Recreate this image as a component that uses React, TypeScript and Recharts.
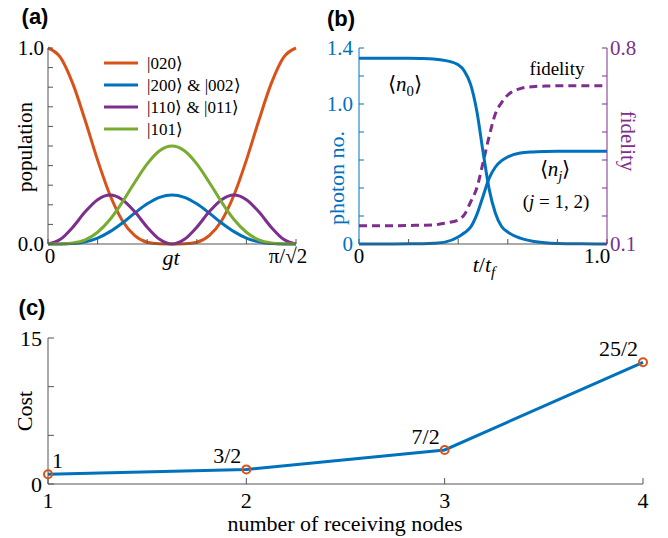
import React from 'react'
import { LineChart, Line, XAxis, YAxis, Legend, LabelList } from 'recharts'

const SERIF = '"Liberation Serif", "Times New Roman", serif'
const SANS = '"Liberation Sans", Arial, sans-serif'

// MATLAB default colours
const ORANGE = '#D95319'
const BLUE = '#0072BD'
const PURPLE = '#7E2F8E'
const GREEN = '#77AC30'
const AXIS = '#555555'

// (a) populations, x is gt as a fraction of pi/sqrt(2)
const gtFrac = [0, 0.05, 0.1, 0.15, 0.2, 0.25, 0.3, 0.35, 0.4, 0.45, 0.5, 0.55, 0.6, 0.65, 0.7, 0.75, 0.8, 0.85, 0.9, 0.95, 1]
const pop020 = [1, 0.952, 0.818, 0.63, 0.428, 0.25, 0.119, 0.043, 0.009, 0.001, 0, 0.001, 0.009, 0.043, 0.119, 0.25, 0.428, 0.63, 0.818, 0.952, 1]
const pop200 = [0, 0, 0.002, 0.011, 0.03, 0.063, 0.107, 0.158, 0.205, 0.238, 0.25, 0.238, 0.205, 0.158, 0.107, 0.063, 0.03, 0.011, 0.002, 0, 0]
const pop110 = [0, 0.024, 0.086, 0.164, 0.226, 0.25, 0.226, 0.164, 0.086, 0.024, 0, 0.024, 0.086, 0.164, 0.226, 0.25, 0.226, 0.164, 0.086, 0.024, 0]
const pop101 = [0, 0, 0.005, 0.021, 0.06, 0.125, 0.214, 0.315, 0.409, 0.476, 0.5, 0.476, 0.409, 0.315, 0.214, 0.125, 0.06, 0.021, 0.005, 0, 0]
const stateNames = ['|020⟩', '|200⟩ & |002⟩', '|110⟩ & |011⟩', '|101⟩']
const popTicksY = [0, 0.1, 0.2, 0.3, 0.4, 0.5, 0.6, 0.7, 0.8, 0.9, 1]
const popTicksX = [0, 0.2, 0.4, 0.6, 0.8, 1]

// (b) photon numbers and fidelity vs t/tf
const tNorm = [0, 0.1, 0.2, 0.25, 0.3, 0.35, 0.4, 0.425, 0.45, 0.475, 0.5, 0.525, 0.55, 0.575, 0.6, 0.65, 0.7, 0.75, 0.8, 0.9, 1]
const n0 = [1.326, 1.326, 1.326, 1.325, 1.322, 1.31, 1.28, 1.235, 1.14, 0.95, 0.66, 0.39, 0.22, 0.125, 0.085, 0.042, 0.02, 0.009, 0.004, 0.001, 0]
const nj = [0, 0, 0.001, 0.002, 0.005, 0.015, 0.05, 0.08, 0.12, 0.21, 0.34, 0.47, 0.55, 0.595, 0.622, 0.65, 0.658, 0.661, 0.662, 0.662, 0.662]
const fidelity = [0.165, 0.165, 0.166, 0.167, 0.168, 0.175, 0.186, 0.205, 0.25, 0.3, 0.39, 0.485, 0.565, 0.605, 0.632, 0.655, 0.662, 0.664, 0.665, 0.665, 0.665]
const photonTicks = [0, 0.2, 0.4, 0.6, 0.8, 1, 1.2, 1.4]
const fidTicks = [0.1, 0.2, 0.3, 0.4, 0.5, 0.6, 0.7, 0.8]
const tTicks = [0, 0.2, 0.4, 0.6, 0.8, 1]

// (c) cost vs number of receiving nodes
const nodes = [1, 2, 3, 4]
const cost = [1, 1.5, 3.5, 12.5]
const costLabels = ['1', '3/2', '7/2', '25/2']
const costTicks = [0, 5, 10, 15]

const dataA = gtFrac.map((x, i) => ({ x, p020: pop020[i], p200: pop200[i], p110: pop110[i], p101: pop101[i] }))
const dataB = tNorm.map((t, i) => ({ t, n0: n0[i], nj: nj[i], fid: fidelity[i] }))
const dataC = nodes.map((n, i) => ({ n, cost: cost[i], label: costLabels[i] }))

const Txt = ({ x, y, size = 18, color = '#000', rotate = 0, family = SERIF, italic = false, bold = false, children }: any) => (
    <div
        style={{
            position: 'absolute',
            left: x,
            top: y,
            transform: `translate(-50%, -50%) rotate(${rotate}deg)`,
            fontSize: size,
            color,
            fontFamily: family,
            fontStyle: italic ? 'italic' : 'normal',
            fontWeight: bold ? 700 : 400,
            whiteSpace: 'nowrap',
            lineHeight: 1,
        }}
    >
        {children}
    </div>
)

// keep legend in plotting order (recharts sorts it otherwise)
const renderLegendA = (props: any) => {
    const items = [...props.payload].sort((a: any, b: any) => stateNames.indexOf(a.value) - stateNames.indexOf(b.value))
    return (
        <div style={{ fontFamily: SERIF, fontSize: 17 }}>
            {items.map((item: any) => (
                <div key={item.value} style={{ display: 'flex', alignItems: 'center', height: 22 }}>
                    <svg width={34} height={6} style={{ marginRight: 9 }}>
                        <line x1={0} y1={3} x2={34} y2={3} stroke={item.color} strokeWidth={3} />
                    </svg>
                    <span>{item.value}</span>
                </div>
            ))}
        </div>
    )
}

const renderTickA = (props: any) => {
    const v = props.payload.value
    const label = v === 0 ? '0' : v === 1 ? 'π/√2' : ''
    return (
        <text x={v === 1 ? props.x - 8 : props.x + 2} y={props.y} dy="0.71em" textAnchor="middle" fontSize={21} fontFamily={SERIF} fill="#000">
            {label}
        </text>
    )
}

const renderTickB = (props: any) => {
    const v = props.payload.value
    const label = v === 0 ? '0' : v === 1 ? '1.0' : ''
    return (
        <text x={v === 1 ? props.x - 10 : props.x} y={props.y} dy="0.71em" textAnchor="middle" fontSize={21} fontFamily={SERIF} fill="#000">
            {label}
        </text>
    )
}

const renderCostLabel = (props: any) => {
    const { x, y, value, index } = props
    const first = index === 0
    return (
        <text x={first ? x + 4 : x - 5} y={y - 6} textAnchor={first ? 'start' : 'end'} fontSize={22} fontFamily={SERIF} fill="#000">
            {value}
        </text>
    )
}

const tickFont = { fontSize: 21, fontFamily: SERIF, fill: '#000' }

export default function App() {
    return (
        <div style={{ position: 'absolute', left: 0, top: 0, width: 668, height: 538, background: '#fff', overflow: 'hidden' }}>
            {/* (a) */}
            <div style={{ position: 'absolute', left: 0, top: 0 }}>
                <LineChart width={320} height={280} data={dataA} margin={{ top: 48, right: 24, bottom: 0, left: 0 }}>
                    <XAxis dataKey="x" type="number" domain={[0, 1]} ticks={popTicksX} height={36} tickSize={-5} tickMargin={9}
                        axisLine={{ stroke: AXIS }} tickLine={{ stroke: AXIS }} tick={renderTickA} />
                    <XAxis xAxisId="top" orientation="top" dataKey="x" type="number" domain={[0, 1]} ticks={popTicksX} height={0}
                        tickSize={-5} tick={false} axisLine={{ stroke: AXIS }} tickLine={{ stroke: AXIS }} />
                    <YAxis type="number" domain={[0, 1]} ticks={popTicksY} width={48} tickSize={-5} tickMargin={9}
                        axisLine={{ stroke: AXIS }} tickLine={{ stroke: AXIS }} tick={tickFont}
                        tickFormatter={(v: number) => (v === 0 ? '0.0' : v === 1 ? '1.0' : '')} />
                    <YAxis yAxisId="right" orientation="right" type="number" domain={[0, 1]} ticks={popTicksY} width={0}
                        tickSize={-5} tick={false} axisLine={{ stroke: AXIS }} tickLine={{ stroke: AXIS }} />
                    <Legend content={renderLegendA} layout="horizontal" verticalAlign="middle" align="center"
                        wrapperStyle={{ left: 104, top: 52, width: 200 }} />
                    <Line type="monotone" dataKey="p020" name={stateNames[0]} stroke={ORANGE} strokeWidth={3} dot={false} isAnimationActive={false} />
                    <Line type="monotone" dataKey="p200" name={stateNames[1]} stroke={BLUE} strokeWidth={3} dot={false} isAnimationActive={false} />
                    <Line type="monotone" dataKey="p110" name={stateNames[2]} stroke={PURPLE} strokeWidth={3} dot={false} isAnimationActive={false} />
                    <Line type="monotone" dataKey="p101" name={stateNames[3]} stroke={GREEN} strokeWidth={3} dot={false} isAnimationActive={false} />
                </LineChart>
            </div>

            {/* (b) */}
            <div style={{ position: 'absolute', left: 320, top: 0 }}>
                <LineChart width={348} height={280} data={dataB} margin={{ top: 48, right: 0, bottom: 0, left: 0 }}>
                    <XAxis dataKey="t" type="number" domain={[0, 1]} ticks={tTicks} height={36} tickSize={-5} tickMargin={9}
                        axisLine={{ stroke: AXIS }} tickLine={{ stroke: AXIS }} tick={renderTickB} />
                    <XAxis xAxisId="top" orientation="top" dataKey="t" type="number" domain={[0, 1]} ticks={tTicks} height={0}
                        tickSize={-5} tick={false} axisLine={{ stroke: AXIS }} tickLine={{ stroke: AXIS }} />
                    <YAxis yAxisId="n" type="number" domain={[0, 1.4]} ticks={photonTicks} width={39} tickSize={-5} tickMargin={11}
                        axisLine={{ stroke: BLUE }} tickLine={{ stroke: BLUE }} tick={{ ...tickFont, fill: BLUE }}
                        tickFormatter={(v: number) => (v === 0 ? '0' : v === 1 ? '1.0' : v === 1.4 ? '1.4' : '')} />
                    <YAxis yAxisId="f" orientation="right" type="number" domain={[0.1, 0.8]} ticks={fidTicks} width={61} tickSize={-5} tickMargin={8}
                        axisLine={{ stroke: PURPLE }} tickLine={{ stroke: PURPLE }} tick={{ ...tickFont, fill: PURPLE }}
                        tickFormatter={(v: number) => (v === 0.1 ? '0.1' : v === 0.8 ? '0.8' : '')} />
                    <Line yAxisId="f" type="monotone" dataKey="fid" stroke={PURPLE} strokeWidth={3} strokeDasharray="8 5" dot={false} isAnimationActive={false} />
                    <Line yAxisId="n" type="monotone" dataKey="n0" stroke={BLUE} strokeWidth={3} dot={false} isAnimationActive={false} />
                    <Line yAxisId="n" type="monotone" dataKey="nj" stroke={BLUE} strokeWidth={3} dot={false} isAnimationActive={false} />
                </LineChart>
            </div>

            {/* (c) */}
            <div style={{ position: 'absolute', left: 0, top: 280 }}>
                <LineChart width={668} height={258} data={dataC} margin={{ top: 58, right: 25, bottom: 0, left: 0 }}>
                    <XAxis dataKey="n" type="number" domain={[1, 4]} ticks={nodes} height={54} tickSize={-6} tickMargin={14}
                        axisLine={{ stroke: AXIS }} tickLine={{ stroke: AXIS }} tick={{ fontSize: 22, fontFamily: SERIF, fill: '#000' }} />
                    <XAxis xAxisId="top" orientation="top" dataKey="n" type="number" domain={[1, 4]} ticks={nodes} height={0}
                        tickSize={-6} tick={false} axisLine={{ stroke: AXIS }} tickLine={{ stroke: AXIS }} />
                    <YAxis type="number" domain={[0, 15]} ticks={costTicks} width={48} tickSize={-6} tickMargin={12}
                        axisLine={{ stroke: AXIS }} tickLine={{ stroke: AXIS }} tick={{ fontSize: 22, fontFamily: SERIF, fill: '#000' }}
                        tickFormatter={(v: number) => (v === 0 || v === 15 ? String(v) : '')} />
                    <YAxis yAxisId="right" orientation="right" type="number" domain={[0, 15]} ticks={costTicks} width={0}
                        tickSize={-6} tick={false} axisLine={{ stroke: AXIS }} tickLine={{ stroke: AXIS }} />
                    <Line type="linear" dataKey="cost" stroke={BLUE} strokeWidth={3}
                        dot={{ r: 4, stroke: ORANGE, strokeWidth: 2, fill: 'none' }} isAnimationActive={false}>
                        <LabelList dataKey="label" content={renderCostLabel} />
                    </Line>
                </LineChart>
            </div>

            {/* panel letters, axis titles, annotations */}
            <Txt x={35} y={17} size={22} bold family={SANS}>(a)</Txt>
            <Txt x={341} y={19} size={22} bold family={SANS}>(b)</Txt>
            <Txt x={32} y={308} size={22} bold family={SANS}>(c)</Txt>

            <Txt x={25} y={147} size={21} rotate={-90}>population</Txt>
            <Txt x={171} y={258} size={22} italic>gt</Txt>

            <Txt x={337} y={178} size={22} rotate={-90} color={BLUE}>photon no.</Txt>
            <Txt x={627} y={141} size={21} rotate={90} color={PURPLE}>fidelity</Txt>
            <Txt x={484} y={267} size={22}><i>t</i>/<i>t</i><sub style={{ fontSize: '0.7em' }}><i>f</i></sub></Txt>
            <Txt x={405} y={86} size={21}>⟨<i>n</i><sub style={{ fontSize: '0.7em' }}>0</sub>⟩</Txt>
            <Txt x={557} y={68} size={19}>fidelity</Txt>
            <Txt x={555} y={171} size={21}>⟨<i>n</i><sub style={{ fontSize: '0.7em' }}><i>j</i></sub>⟩</Txt>
            <Txt x={556} y={201} size={19}>(<i>j</i> = 1, 2)</Txt>

            <Txt x={25} y={411} size={22} rotate={-90}>Cost</Txt>
            <Txt x={345} y={524} size={22}>number of receiving nodes</Txt>
        </div>
    )
}
